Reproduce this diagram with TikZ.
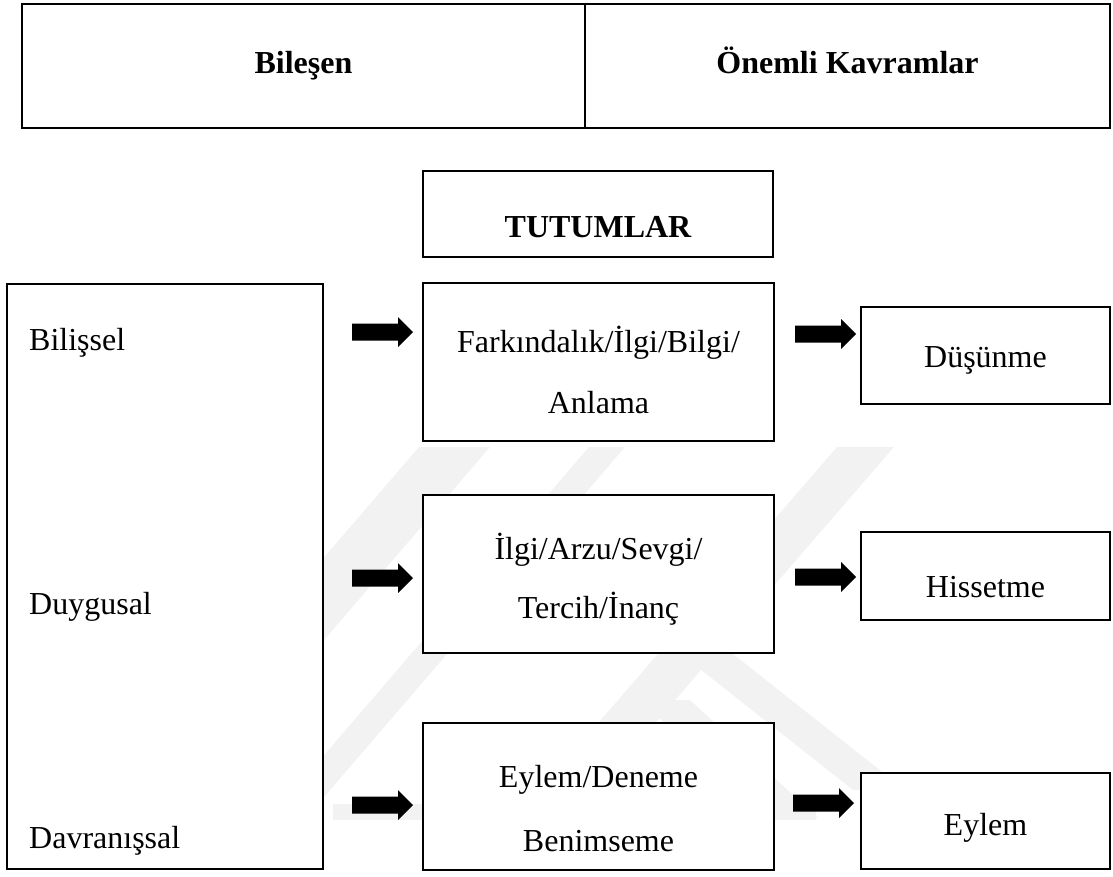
\documentclass[tikz,border=0pt]{standalone}
\usepackage{fontspec}
\setmainfont{Liberation Serif}
\begin{document}
\begin{tikzpicture}[x=1pt,y=-1pt,
  box/.style={draw=black, line width=2.8pt, fill=white, inner sep=0pt, outer sep=0pt, anchor=north west},
  openbox/.style={draw=black, line width=2.8pt, inner sep=0pt, outer sep=0pt, anchor=north west},
  txt/.style={inner sep=0pt, font=\fontsize{32}{38}\selectfont, anchor=base},
  lefttxt/.style={txt, anchor=base west},
  headtxt/.style={txt, font=\fontsize{32}{38}\selectfont\bfseries},
  emblem/.style={fill=black!5, draw=none},
  blockarrow/.pic={\fill[black] (0,-8.5) -- (46,-8.5) -- (46,-15) -- (61,0) -- (46,15) -- (46,8.5) -- (0,8.5) -- cycle;}
]
\useasboundingbox (0,0) rectangle (1113,876);

% faint background emblem: slanted stripes, two arms and a base bar
\fill[emblem] (419,447) -- (490,447) -- (171,818) -- (100,818) -- cycle;
\fill[emblem] (589,447) -- (625,447) -- (306,818) -- (270,818) -- cycle;
\fill[emblem] (837,447) -- (894,447) -- (573,818) -- (516,818) -- cycle;
\fill[emblem] (676,650) -- (728,650) -- (905,790) -- (853,790) -- cycle;
\fill[emblem] (640,700) -- (690,700) -- (818,818) -- (766,818) -- cycle;
\fill[emblem] (333,804) -- (816,804) -- (816,820) -- (333,820) -- cycle;

% header table
\node[openbox, minimum width=1088, minimum height=124] (hdr) at (22,4) {};
\coordinate (divtop) at (585,4);
\coordinate (divbot) at (585,128);
\draw[line width=2.8pt] (divtop) -- (divbot);
\node[headtxt] (hA) at (303.5,73) {Bileşen};
\node[headtxt] (hB) at (847.5,73) {Önemli Kavramlar};

% title box
\node[box, minimum width=350, minimum height=86] (tut) at (423,171) {};
\node[headtxt] (tutT) at (598,237) {TUTUMLAR};

% component column
\node[box, minimum width=316, minimum height=585] (comp) at (7,284) {};
\node[lefttxt] (c1) at (29,350) {Bilişsel};
\node[lefttxt] (c2) at (29,614) {Duygusal};
\node[lefttxt] (c3) at (29,848) {Davranışsal};

% concept boxes
\node[box, minimum width=351, minimum height=158] (m1) at (423,283) {};
\node[txt] (m1a) at (598.5,352) {Farkındalık/İlgi/Bilgi/};
\node[txt] (m1b) at (598.5,413) {Anlama};

\node[box, minimum width=351, minimum height=158] (m2) at (423,495) {};
\node[txt] (m2a) at (598.5,559) {İlgi/Arzu/Sevgi/};
\node[txt] (m2b) at (598.5,618) {Tercih/İnanç};

\node[box, minimum width=351, minimum height=147] (m3) at (423,723) {};
\node[txt] (m3a) at (598.5,787) {Eylem/Deneme};
\node[txt] (m3b) at (598.5,851) {Benimseme};

% outcome boxes
\node[box, minimum width=249, minimum height=97] (r1) at (861,307) {};
\node[txt] (r1t) at (985.5,367) {Düşünme};
\node[box, minimum width=249, minimum height=88] (r2) at (861,532) {};
\node[txt] (r2t) at (985.5,597) {Hissetme};
\node[box, minimum width=249, minimum height=96] (r3) at (861,773) {};
\node[txt] (r3t) at (985.5,835) {Eylem};

% block arrows
\pic (la1) at (352,332) {blockarrow};
\pic (la2) at (352,578) {blockarrow};
\pic (la3) at (352,805) {blockarrow};
\pic (ra1) at (795,334) {blockarrow};
\pic (ra2) at (795,577) {blockarrow};
\pic (ra3) at (793,803) {blockarrow};
\end{tikzpicture}
\end{document}
